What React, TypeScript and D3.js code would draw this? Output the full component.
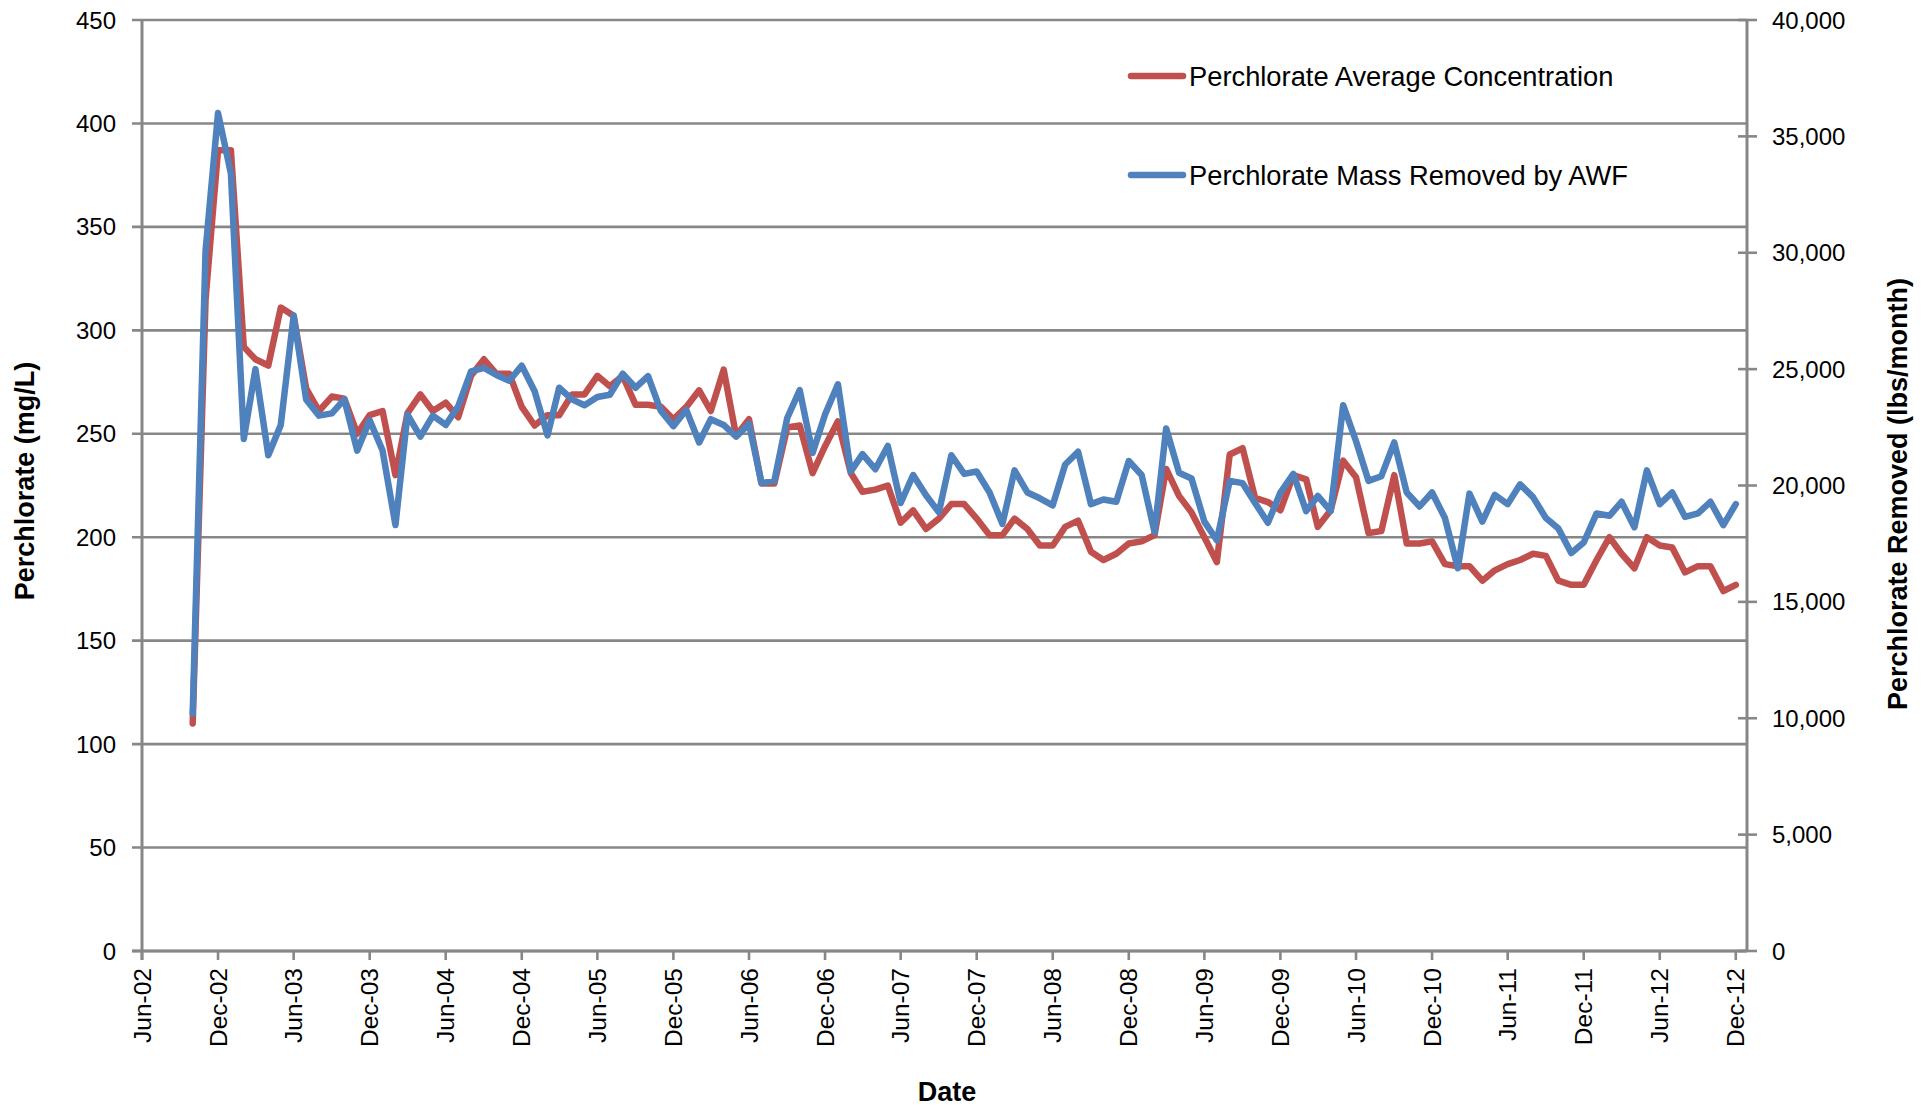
import React from "react";
import * as d3 from "d3";

// ---- Data (monthly, Oct-2002 .. Dec-2012) ----
const startMonth = new Date(2002, 9, 1);
const concentration: number[] = [
  110, 315, 387, 387, 292, 286, 283, 311, 307, 272, 261, 268, 267, 250, 259, 261, 230, 260, 269, 261,
  265, 258, 278, 286, 279, 279, 263, 254, 259, 259, 269, 269, 278, 273, 278, 264, 264, 263, 257, 263,
  271, 261, 281, 249, 257, 226, 226, 253, 254, 231, 244, 256, 231, 222, 223, 225, 207, 213, 204, 209,
  216, 216, 209, 201, 201, 209, 204, 196, 196, 205, 208, 193, 189, 192, 197, 198, 201, 233, 220, 212,
  200, 188, 240, 243, 219, 217, 213, 230, 228, 205, 213, 237, 229, 202, 203, 230, 197, 197, 198, 187,
  186, 186, 179, 184, 187, 189, 192, 191, 179, 177, 177, 189, 200, 192, 185, 200, 196, 195, 183, 186,
  186, 174, 177,
];
const massRemoved: number[] = [
  10200, 30100, 36000, 33400, 22000, 25000, 21300, 22600, 27300, 23700, 23000, 23100, 23700, 21500, 22800, 21500, 18300, 23050, 22100, 23000,
  22600, 23400, 24900, 25050, 24750, 24500, 25150, 24050, 22150, 24200, 23700, 23450, 23800, 23900, 24800, 24200, 24700, 23200, 22550, 23250,
  21850, 22850, 22600, 22100, 22650, 20100, 20200, 22900, 24100, 21400, 23050, 24350, 20600, 21350, 20700, 21700, 19250, 20450, 19580, 18850,
  21300, 20500, 20600, 19700, 18350, 20650, 19700, 19450, 19150, 20900, 21450, 19200, 19400, 19300, 21050, 20450, 18000, 22450, 20550, 20300,
  18450, 17650, 20200, 20100, 19250, 18400, 19700, 20500, 18900, 19550, 18900, 23450, 21900, 20200, 20400, 21850, 19700, 19100, 19700, 18600,
  16450, 19650, 18450, 19600, 19200, 20050, 19500, 18600, 18150, 17100, 17550, 18800, 18700, 19300, 18200, 20650, 19200, 19700, 18650, 18800,
  19300, 18300, 19200,
];
const leftTicks: number[] = [0, 50, 100, 150, 200, 250, 300, 350, 400, 450];
const rightTicks: number[] = [0, 5000, 10000, 15000, 20000, 25000, 30000, 35000, 40000];
const seriesNames: string[] = ["Perchlorate Average Concentration", "Perchlorate Mass Removed by AWF"];
const seriesColors: string[] = ["#C0504D", "#4F81BD"];

const W = 1932;
const H = 1106;
const left = 142;
const right = 1747;
const top = 20;
const bottom = 951;
const FONT = "'Liberation Sans', Arial, sans-serif";
const GRID = "#878787";

export default function App() {
  const dates = concentration.map((_, i) => d3.timeMonth.offset(startMonth, i));
  const x = d3
    .scaleTime()
    .domain([new Date(2002, 5, 1), new Date(2012, 11, 28)])
    .range([left, right]);
  const yL = d3.scaleLinear().domain([0, 450]).range([bottom, top]);
  const yR = d3.scaleLinear().domain([0, 40000]).range([bottom, top]);
  const xTicks = d3.timeMonth.range(new Date(2002, 5, 1), new Date(2012, 11, 2), 6);
  const fmtX = d3.timeFormat("%b-%y");
  const fmtR = d3.format(",");

  const lineL = d3
    .line<number>()
    .x((_, i) => x(dates[i]))
    .y((d) => yL(d));
  const lineR = d3
    .line<number>()
    .x((_, i) => x(dates[i]))
    .y((d) => yR(d));

  return (
    <svg
      width={W}
      height={H}
      style={{ position: "absolute", left: 0, top: 0, background: "#fff" }}
      fontFamily={FONT}
    >
      <rect x={0} y={0} width={W} height={H} fill="#fff" />
      {/* gridlines */}
      {leftTicks.map((t) => (
        <line key={"g" + t} x1={left - 10} x2={right} y1={yL(t)} y2={yL(t)} stroke={GRID} strokeWidth={2.6} />
      ))}
      {/* left axis */}
      <line x1={left} x2={left} y1={top - 1} y2={bottom + 9} stroke={GRID} strokeWidth={3} />
      {leftTicks.map((t) => (
        <text key={"l" + t} x={116} y={yL(t)} textAnchor="end" dominantBaseline="central" fontSize={24} fill="#000">
          {t}
        </text>
      ))}
      {/* right axis */}
      <line x1={right} x2={right} y1={top - 1} y2={bottom + 1} stroke={GRID} strokeWidth={3} />
      {rightTicks.map((t) => (
        <g key={"r" + t}>
          <line x1={right - 9} x2={right + 10} y1={yR(t)} y2={yR(t)} stroke={GRID} strokeWidth={2.6} />
          <text x={1772} y={yR(t)} textAnchor="start" dominantBaseline="central" fontSize={24} fill="#000">
            {fmtR(t)}
          </text>
        </g>
      ))}
      {/* x axis */}
      <line x1={left - 10} x2={right} y1={bottom} y2={bottom} stroke={GRID} strokeWidth={3} />
      {xTicks.map((t) => (
        <g key={"x" + t.getTime()} transform={`translate(${x(t)},0)`}>
          <line x1={0} x2={0} y1={bottom} y2={bottom + 9} stroke={GRID} strokeWidth={2.6} />
          <text
            transform={`translate(0,${968}) rotate(-90)`}
            textAnchor="end"
            dominantBaseline="central"
            fontSize={24.5}
            fill="#000"
          >
            {fmtX(t)}
          </text>
        </g>
      ))}
      {/* series */}
      <path d={lineL(concentration) || ""} fill="none" stroke={seriesColors[0]} strokeWidth={6.5} strokeLinejoin="round" strokeLinecap="round" />
      <path d={lineR(massRemoved) || ""} fill="none" stroke={seriesColors[1]} strokeWidth={6.5} strokeLinejoin="round" strokeLinecap="round" />
      {/* legend */}
      {seriesNames.map((n, i) => (
        <g key={n} transform={`translate(0,${i === 0 ? 76 : 175})`}>
          <line x1={1131} x2={1183} y1={0} y2={0} stroke={seriesColors[i]} strokeWidth={6.5} strokeLinecap="round" />
          <text x={1189} y={0} dominantBaseline="central" fontSize={27.3} fill="#000">
            {n}
          </text>
        </g>
      ))}
      {/* titles */}
      <text transform="translate(25,481) rotate(-90)" textAnchor="middle" dominantBaseline="central" fontSize={27} fontWeight="bold">
        Perchlorate (mg/L)
      </text>
      <text transform="translate(1898,494) rotate(-90)" textAnchor="middle" dominantBaseline="central" fontSize={27} fontWeight="bold">
        Perchlorate Removed (lbs/month)
      </text>
      <text x={947} y={1101} textAnchor="middle" fontSize={27} fontWeight="bold">
        Date
      </text>
    </svg>
  );
}
